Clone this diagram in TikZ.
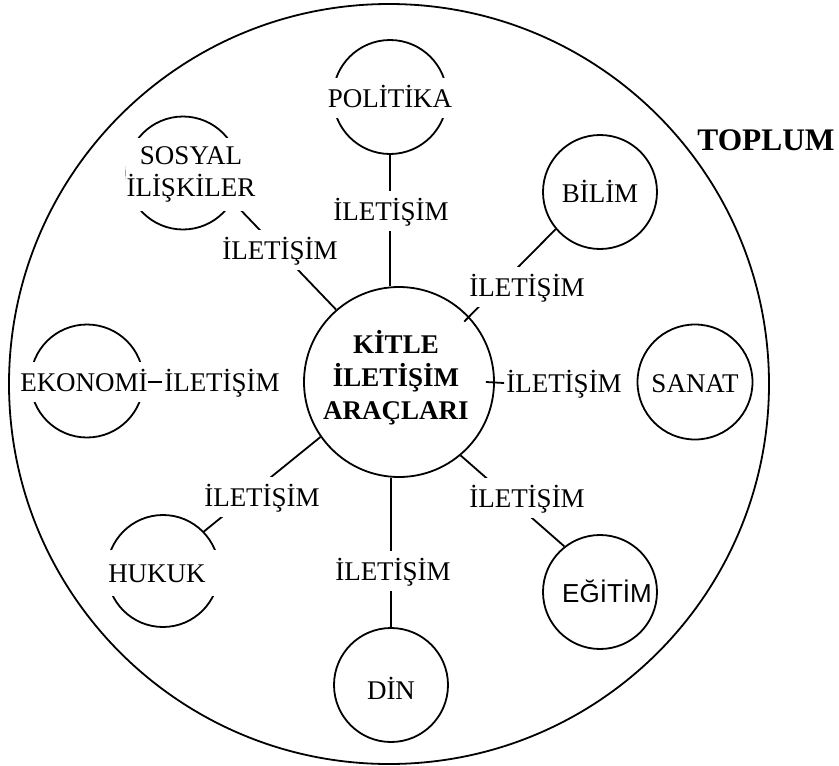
\documentclass[tikz,border=0pt]{standalone}
\usepackage{fontspec}
\setmainfont{Liberation Serif}
\newfontfamily\sansf{Liberation Sans}
\begin{document}
\begin{tikzpicture}[x=1pt,y=-1pt,
  every node/.style={font=\fontsize{27pt}{32pt}\selectfont},
  ln/.style={line width=1.8pt},
  satc/.style={draw, circle, line width=1.8pt, inner sep=0pt, minimum size=#1},
  lbl/.style={fill=white, inner xsep=2pt, inner ysep=0pt, minimum height=40pt, text height=18pt, text depth=0pt},
  stxt/.style={fill=white, inner xsep=0pt, inner ysep=0pt, text height=18pt, text depth=0pt}]
\useasboundingbox (0,0) rectangle (839,766);
% circles
\node[satc=760pt] (toplum) at (389,384) {};
\node[satc=190pt] (kitle) at (399,382) {};
\node[satc=114pt] (pol) at (390,97) {};
\node[satc=113pt] (sos) at (183,173) {};
\node[satc=114pt] (bil) at (600,192) {};
\node[satc=113pt] (eko) at (87,381) {};
\node[satc=115pt] (san) at (695,382) {};
\node[satc=112pt] (huk) at (163,571) {};
\node[satc=114pt] (din) at (391,685) {};
\node[satc=114pt] (egi) at (600,592) {};
% radial connectors
\draw[ln] (pol.south) -- (pol.south |- kitle.north);
\draw[ln] (sos.-30) -- (kitle.131);
\draw[ln, shorten >=-7pt] (bil.220) -- (kitle.43);
\draw[ln] (huk.44) -- (kitle.215);
\draw[ln] (din.north) -- (din.north |- kitle.south);
\draw[ln] (egi.128) -- (kitle.-50);
% labels
\node[lbl] (lpol) at (391,211) {İLETİŞİM};
\node[lbl] (lsos) at (280,250) {İLETİŞİM};
\node[lbl] (lbil) at (527,287) {İLETİŞİM};
\node[lbl] (leko) at (222,382) {İLETİŞİM};
\node[lbl] (lsan) at (564,383) {İLETİŞİM};
\node[lbl] (lhuk) at (262,497) {İLETİŞİM};
\node[lbl] (ldin) at (393,571) {İLETİŞİM};
\node[lbl] (legi) at (527,498) {İLETİŞİM};
% satellite texts
\node[stxt, minimum height=40pt] (polt) at (390,98) {POLİTİKA};
\node[fill=white, inner sep=0pt, minimum height=73pt, minimum width=130pt, align=center] (sost) at (191,174) {SOSYAL\\İLİŞKİLER};
\node[stxt] (bilt) at (600,193) {BİLİM};
\node[stxt, minimum height=40pt] (ekot) at (84,382) {EKONOMİ};
\node[stxt] (sant) at (695,383) {SANAT};
\node[stxt, minimum height=46pt, minimum width=128pt] (hukt) at (157,573) {HUKUK};
\node[stxt] (dint) at (391,690) {DİN};
\node[stxt, minimum height=36pt, font=\sansf\fontsize{26pt}{30pt}\selectfont] (egit) at (607,593) {EĞİTİM\hspace{12pt}};
% horizontal connectors
\draw[ln] (ekot.east) -- (leko.west);
\draw[ln] ([xshift=-9pt]kitle.east) -- (lsan.west);
% centre and society texts
\node[align=center, font=\bfseries\fontsize{27pt}{33pt}\selectfont] (kitlet) at (396,378) {KİTLE\\İLETİŞİM\\ARAÇLARI};
\node[font=\bfseries\fontsize{31.4pt}{36pt}\selectfont, text height=20.8pt, text depth=0pt, inner sep=0pt] (toplumt) at (766,140) {TOPLUM};
\end{tikzpicture}
\end{document}
